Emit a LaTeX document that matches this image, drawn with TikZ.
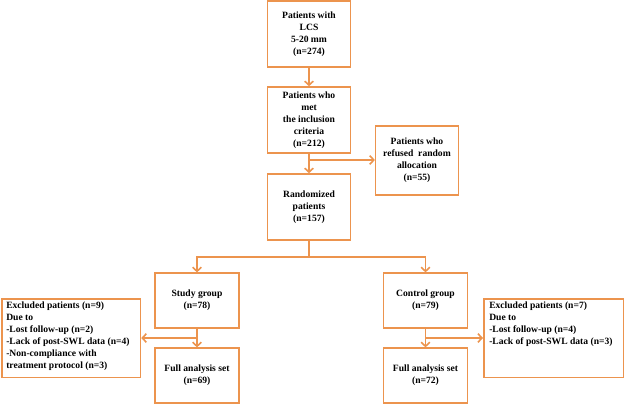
\documentclass[tikz,border=0pt]{standalone}
\usepackage{fontspec}
\setmainfont{Liberation Serif}
\usetikzlibrary{arrows.meta}
\definecolor{flow}{RGB}{236,148,78}
\tikzset{
  box/.style={draw=flow, line width=1.2pt, align=center, inner sep=1pt,
    minimum width=62pt, minimum height=49.5pt,
    font=\fontsize{7.2}{9}\selectfont\bfseries},
  smallbox/.style={box, minimum width=63pt, minimum height=41pt},
  exbox/.style={draw=flow, line width=1.2pt, anchor=north west,
    minimum width=104pt, minimum height=59pt},
  extext/.style={anchor=north west, align=left, inner sep=0pt,
    font=\fontsize{7.2}{9}\selectfont\bfseries},
  arr/.style={draw=flow, line width=1.2pt, -{Straight Barb[length=3pt,width=6.5pt]}},
  line/.style={draw=flow, line width=1.2pt}
}
\begin{document}
\begin{tikzpicture}[x=0.75pt,y=-0.75pt]
  \useasboundingbox (0,0) rectangle (624,404);
  \node[box] (lcs) at (309,34) {Patients with\\LCS\\5-20 mm\\(n=274)};
  \node[box] (met) at (309,120) {Patients who\\met\\the inclusion\\criteria\\(n=212)};
  \node[box] (rand) at (309,207) {Randomized\\patients\\(n=157)};
  \node[box, minimum height=52pt] (refused) at (417,160.5) {Patients who\\refused\ \ random\\allocation\\(n=55)};
  \node[smallbox] (study) at (197,300.5) {Study group\\(n=78)};
  \node[smallbox] (control) at (425.5,300.5) {Control group\\(n=79)};
  \node[smallbox] (fullA) at (197,375.5) {Full analysis set\\(n=69)};
  \node[smallbox] (fullB) at (425.5,375.5) {Full analysis set\\(n=72)};
  \node[exbox] (exA) at (1,298) {};
  \node[extext] (exAtext) at (6,302) {Excluded patients (n=9)\\Due to\\-Lost follow-up (n=2)\\-Lack of post-SWL data (n=4)\\-Non-compliance with\\treatment protocol (n=3)};
  \node[exbox, minimum width=105pt] (exB) at (483,298) {};
  \node[extext] (exBtext) at (489,302) {Excluded patients (n=7)\\Due to\\-Lost follow-up (n=4)\\-Lack of post-SWL data (n=3)};
  % connectors
  \coordinate (split) at (309,160);
  \coordinate (fork) at (309,257);
  \coordinate (dropA) at (197,338);
  \coordinate (dropB) at (425.5,338);
  \draw[arr] (lcs) -- (met);
  \draw[arr] (met) -- (rand);
  \draw[arr] (split) -- (split -| refused.west);
  \draw[line] (rand.south) -- (fork);
  \draw[arr] (fork) -| (study.north);
  \draw[arr] (fork) -| (control.north);
  \draw[arr] (study) -- (fullA);
  \draw[arr] (control) -- (fullB);
  \draw[arr] (dropA) -- (dropA -| exA.east);
  \draw[arr] (dropB) -- (dropB -| exB.west);
\end{tikzpicture}
\end{document}
